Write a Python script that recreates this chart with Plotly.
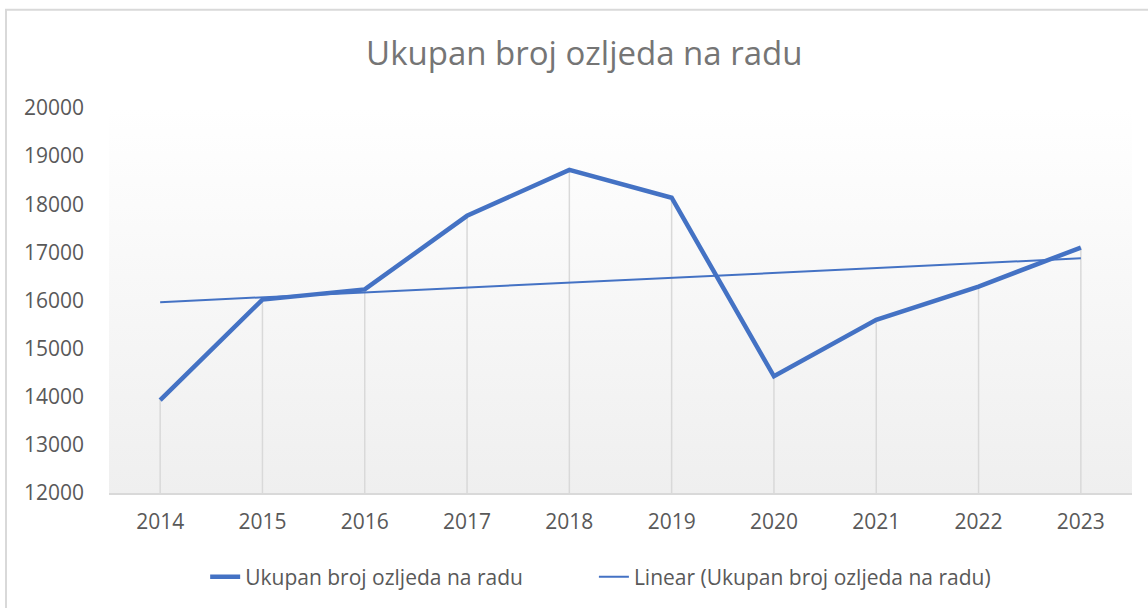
import numpy as np
import plotly.graph_objects as go

years = ['2014', '2015', '2016', '2017', '2018', '2019', '2020', '2021', '2022', '2023']
ozljede = [13930, 16020, 16230, 17760, 18715, 18135, 14425, 15600, 16290, 17100]
y_ticks = [12000, 13000, 14000, 15000, 16000, 17000, 18000, 19000, 20000]

name = 'Ukupan broj ozljeda na radu'
blue = '#4472C4'
grey_line = '#d9d9d9'
font = 'Open Sans'

# linear trendline like Excel
idx = np.arange(len(years))
slope, icpt = np.polyfit(idx, ozljede, 1)
trend = slope * idx + icpt

# drop lines from each point to the axis
drop_x, drop_y = [], []
for yr, v in zip(years, ozljede):
    drop_x += [yr, yr, None]
    drop_y += [y_ticks[0], v, None]

fig = go.Figure()

# gradient background of plot area (base axis x, data go on overlaying x2)
fig.add_trace(go.Scatter(
    x=[-0.5, 9.5, 9.5, -0.5, -0.5], y=[y_ticks[0], y_ticks[0], y_ticks[-1], y_ticks[-1], y_ticks[0]],
    mode='lines', line=dict(width=0), fill='toself',
    fillgradient=dict(type='vertical', colorscale=[[0, '#efefef'], [1, '#ffffff']]),
    showlegend=False, hoverinfo='skip'))

fig.add_trace(go.Scatter(x=drop_x, y=drop_y, mode='lines', xaxis='x2',
                         line=dict(color=grey_line, width=1.5),
                         showlegend=False, hoverinfo='skip'))

fig.add_trace(go.Scatter(x=years, y=ozljede, mode='lines', name=name, xaxis='x2',
                         line=dict(color=blue, width=4.5), legend='legend'))
fig.add_trace(go.Scatter(x=years, y=trend, mode='lines', name='Linear (' + name + ')',
                         xaxis='x2', line=dict(color=blue, width=2), legend='legend2'))

leg = dict(orientation='h', xanchor='left', y=-0.215, yanchor='middle',
           font=dict(size=21), bgcolor='rgba(0,0,0,0)')

fig.update_layout(
    width=1148, height=608,
    margin=dict(l=109, r=16, t=108, b=114),
    paper_bgcolor='white', plot_bgcolor='rgba(0,0,0,0)',
    font=dict(family=font, color='#595959', size=21),
    title=dict(text=name, x=0.509, xanchor='center', y=0.912, yanchor='middle',
               font=dict(size=33, color='#757575', family=font)),
    xaxis=dict(range=[-0.5, 9.5], visible=False),
    xaxis2=dict(type='category', overlaying='x', anchor='y', range=[-0.5, 9.5],
                showgrid=False, showline=True, linecolor=grey_line, linewidth=1.5,
                ticks='', tickfont=dict(size=21), ticklabelstandoff=9),
    yaxis=dict(range=[y_ticks[0], y_ticks[-1]], tickvals=y_ticks, tickformat='d',
               showgrid=False, zeroline=False, showline=False, ticks='',
               tickfont=dict(size=21), ticklabelstandoff=24),
    legend=dict(leg, x=0.094),
    legend2=dict(leg, x=0.474),
    shapes=[dict(type='rect', xref='paper', yref='paper', x0=-0.1007, x1=1.05,
                 y0=-0.35, y1=1.2552, line=dict(color=grey_line, width=2),
                 layer='below')],
)

fig.write_html('out.html', config={'displayModeBar': False},
               post_script="document.body.style.margin='0';")
